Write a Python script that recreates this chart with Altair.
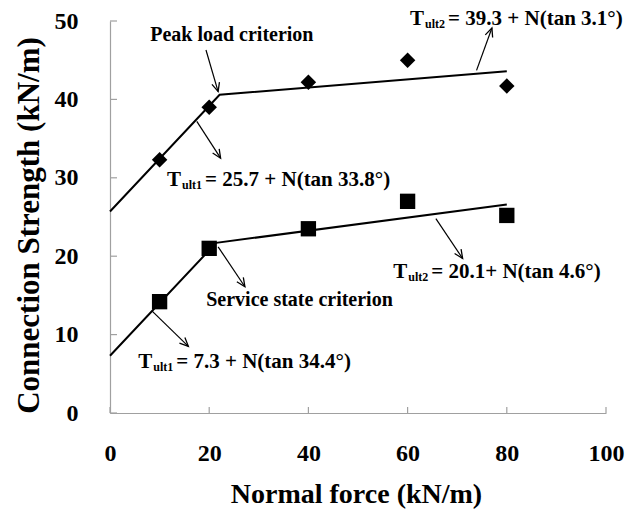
import math
import altair as alt
import pandas as pd

# ---------------- data ----------------
normal_force = [10, 20, 40, 60, 80]
peak_strength = [32.3, 39.0, 42.2, 45.0, 41.7]
service_strength = [14.2, 21.0, 23.5, 27.0, 25.2]

peak_fit_x = [0, 22.1, 80]
peak_fit_y = [25.7, 40.6, 43.6]
service_fit_x = [0, 21.4, 80]
service_fit_y = [7.3, 21.7, 26.6]

x_ticks = [0, 20, 40, 60, 80, 100]
y_ticks = [0, 10, 20, 30, 40, 50]

label_text = ["Peak load criterion", "Service state criterion"]
label_x = [8.1, 19.4]
label_y = [47.4, 13.65]

eq_sub = ["ult1", "ult2", "ult1", "ult2"]
eq_rest = ["= 25.7 + N(tan 33.8°)", "= 39.3 + N(tan 3.1°)",
           "= 7.3 + N(tan 34.4°)", "= 20.1+ N(tan 4.6°)"]
eq_x = [11.5, 60.5, 5.7, 57.1]
eq_y = [28.95, 49.5, 5.7, 17.2]

arrow_x1 = [19.35, 17.5, 73.9, 21.8, 65.7, 8.5]
arrow_y1 = [46.3, 37.2, 43.7, 21.2, 24.8, 13.0]
arrow_x2 = [21.8, 22.3, 77.0, 27.2, 71.1, 15.8]
arrow_y2 = [41.0, 32.5, 49.1, 16.1, 19.7, 8.5]

# ---------------- layout ----------------
W, H = 496, 392
FONT = "Liberation Serif"
XMAX, YMAX = 100, 50

xs = alt.Scale(domain=[0, XMAX], nice=False, zero=False)
ys = alt.Scale(domain=[0, YMAX], nice=False, zero=False)

pts = pd.DataFrame({"x": normal_force, "peak": peak_strength, "service": service_strength})
fits = pd.DataFrame({
    "x": peak_fit_x + service_fit_x,
    "y": peak_fit_y + service_fit_y,
    "s": ["peak"] * len(peak_fit_x) + ["service"] * len(service_fit_x),
    "o": list(range(len(peak_fit_x))) + list(range(len(service_fit_x))),
})

ang = []
for a, b, c, d in zip(arrow_x1, arrow_y1, arrow_x2, arrow_y2):
    dxp = (c - a) * W / XMAX
    dyp = -(d - b) * H / YMAX
    ang.append(math.degrees(math.atan2(dyp, dxp)) % 360)
arrows = pd.DataFrame({"x1": arrow_x1, "y1": arrow_y1, "x2": arrow_x2, "y2": arrow_y2, "ang": ang})

labels = pd.DataFrame({"x": label_x, "y": label_y, "t": label_text})
eqs = pd.DataFrame({"x": eq_x, "y": eq_y, "sub": eq_sub, "rest": eq_rest, "T": ["T"] * len(eq_x)})

xt = pd.DataFrame({"v": x_ticks})
yt = pd.DataFrame({"v": y_ticks})

x_axis = alt.Axis(values=x_ticks, ticks=False, grid=False, labelPadding=28,
                  labelFlush=False, labelOverlap=False,
                  title="Normal force (kN/m)", titleFontSize=28,
                  titleX=246, titleY=89, titleBaseline="alphabetic", titleAlign="center")
y_axis = alt.Axis(values=y_ticks, ticks=False, grid=False, labelPadding=32,
                  labelFlush=False, labelOverlap=False,
                  title="Connection Strength (kN/m)", titleFontSize=31,
                  titleX=-72, titleY=204, titleBaseline="alphabetic", titleAlign="center",
                  titleAngle=270)


def X(f):
    return alt.X(f, scale=xs, axis=x_axis)


def Y(f):
    return alt.Y(f, scale=ys, axis=y_axis)


base_pts = alt.Chart(pts)
peak_pts = base_pts.mark_point(shape="diamond", filled=True, size=240, color="black", opacity=1).encode(
    x=X("x:Q"), y=Y("peak:Q"),
)
serv_pts = base_pts.mark_point(shape="square", filled=True, size=235, color="black", opacity=1).encode(
    x=X("x:Q"), y=Y("service:Q"),
)

fit_lines = alt.Chart(fits).mark_line(color="black", strokeWidth=2).encode(
    x=X("x:Q"), y=Y("y:Q"), detail="s:N", order="o:Q",
)

arrow_shafts = alt.Chart(arrows).mark_rule(color="black", strokeWidth=1.2).encode(
    x=X("x1:Q"), y=Y("y1:Q"), x2="x2:Q", y2="y2:Q",
)
arrow_heads = alt.Chart(arrows).mark_point(
    shape="M -1 -0.45 L 0 0 L -1 0.45", filled=False, size=300,
    color="black", strokeWidth=1.3, opacity=1
).encode(
    x=X("x2:Q"), y=Y("y2:Q"), angle=alt.Angle("ang:Q", scale=None),
)

crit_text = alt.Chart(labels).mark_text(
    font=FONT, fontWeight="bold", fontSize=20, align="left", baseline="alphabetic", color="black"
).encode(x=X("x:Q"), y=Y("y:Q"), text="t:N")

eq_base = alt.Chart(eqs).encode(x=X("x:Q"), y=Y("y:Q"))
eq_T = eq_base.mark_text(font=FONT, fontWeight="bold", fontSize=21, align="left",
                         baseline="alphabetic", color="black").encode(text="T:N")
eq_S = eq_base.mark_text(font=FONT, fontWeight="bold", fontSize=12, align="left",
                         baseline="alphabetic", color="black", dx=15, dy=3).encode(text="sub:N")
eq_R = eq_base.mark_text(font=FONT, fontWeight="bold", fontSize=21, align="left",
                         baseline="alphabetic", color="black", dx=38).encode(text="rest:N")

AX_COLOR = "#a0a0a0"
x_tick_marks = alt.Chart(xt).mark_rule(color=AX_COLOR, strokeWidth=1.2).encode(
    x=X("v:Q"), y=alt.value(H), y2=alt.value(H - 6),
)
y_tick_marks = alt.Chart(yt).mark_rule(color=AX_COLOR, strokeWidth=1.2).encode(
    y=Y("v:Q"), x=alt.value(0), x2=alt.value(7),
)

chart = alt.layer(
    peak_pts, x_tick_marks, y_tick_marks, fit_lines, serv_pts,
    arrow_shafts, arrow_heads, crit_text, eq_T, eq_S, eq_R,
).properties(
    width=W, height=H,
    autosize=alt.AutoSizeParams(type="none"),
    padding={"left": 110, "top": 21, "right": 21, "bottom": 100},
    background="white",
).configure_view(stroke=None).configure_axis(
    domainColor=AX_COLOR, domainWidth=1.2,
    labelFont=FONT, labelFontWeight="bold", labelFontSize=24, labelColor="black",
    titleFont=FONT, titleFontWeight="bold", titleColor="black",
)

chart.save("out.html", embed_options={"renderer": "svg", "actions": False})
